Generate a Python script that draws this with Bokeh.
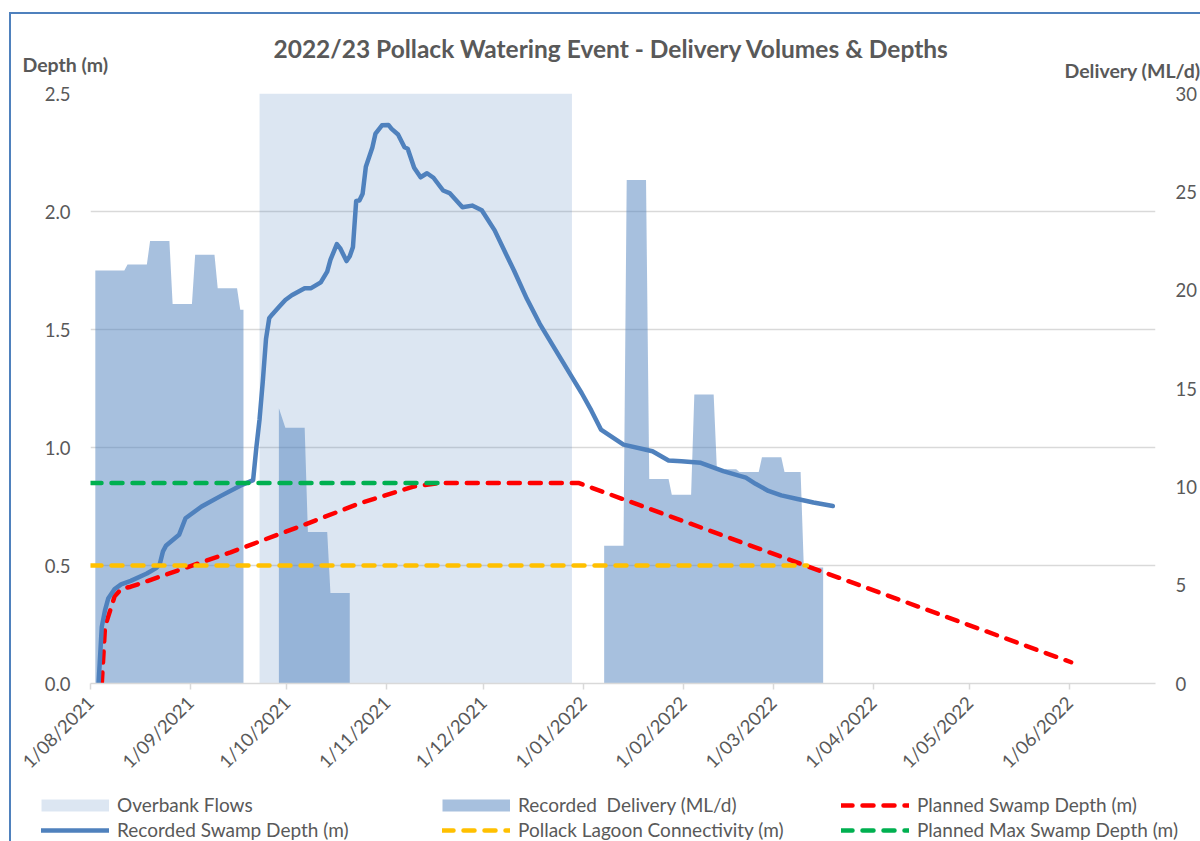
import pandas as pd
from math import pi
from bokeh.plotting import figure
from bokeh.layouts import column
from bokeh.models import (Range1d, LinearAxis, FixedTicker, PrintfTickFormatter,
                          Legend, LegendItem, Label)
from bokeh.embed import file_html
from bokeh.resources import INLINE

# ------------------------------------------------------------------ data
TITLE = "2022/23 Pollack Watering Event - Delivery Volumes & Depths"
LEFT_TITLE = "Depth (m)"
RIGHT_TITLE = "Delivery (ML/d)"

origin = "2021-08-01"
month_ticks = ["2021-08-01", "2021-09-01", "2021-10-01", "2021-11-01", "2021-12-01",
               "2022-01-01", "2022-02-01", "2022-03-01", "2022-04-01", "2022-05-01",
               "2022-06-01"]
month_tick_labels = ["1/08/2021", "1/09/2021", "1/10/2021", "1/11/2021", "1/12/2021",
                     "1/01/2022", "1/02/2022", "1/03/2022", "1/04/2022", "1/05/2022",
                     "1/06/2022"]
depth_ticks = [0.0, 0.5, 1.0, 1.5, 2.0, 2.5]
delivery_ticks = [0, 5, 10, 15, 20, 25, 30]

overbank_dates = ["2021-09-22", "2021-12-28"]
overbank_level = 30

delivery_1_dates = ["2021-08-02", "2021-08-11", "2021-08-12", "2021-08-18", "2021-08-19",
                    "2021-08-25", "2021-08-26", "2021-09-01", "2021-09-02", "2021-09-08",
                    "2021-09-09", "2021-09-15", "2021-09-16", "2021-09-17"]
delivery_1_values = [21.0, 21.0, 21.3, 21.3, 22.5, 22.5, 19.3, 19.3, 21.8, 21.8,
                     20.1, 20.1, 19.0, 19.0]
delivery_2_dates = ["2021-09-28", "2021-09-30", "2021-10-06", "2021-10-07", "2021-10-13",
                    "2021-10-14", "2021-10-20"]
delivery_2_values = [14.0, 13.0, 13.0, 7.7, 7.7, 4.6, 4.6]
delivery_3_dates = ["2022-01-07", "2022-01-13", "2022-01-14", "2022-01-20", "2022-01-21",
                    "2022-01-27", "2022-01-28", "2022-02-03", "2022-02-04", "2022-02-10",
                    "2022-02-11", "2022-02-17", "2022-02-18", "2022-02-24", "2022-02-25",
                    "2022-03-03", "2022-03-04", "2022-03-09", "2022-03-10", "2022-03-16"]
delivery_3_values = [7.0, 7.0, 25.6, 25.6, 10.4, 10.4, 9.6, 9.6, 14.7, 14.7,
                     10.9, 10.9, 10.75, 10.75, 11.5, 11.5, 10.75, 10.75, 5.9, 5.9]

swamp_dates = ["2021-08-03", "2021-08-04", "2021-08-05", "2021-08-06", "2021-08-08",
               "2021-08-10", "2021-08-13", "2021-08-18", "2021-08-21", "2021-08-22",
               "2021-08-23", "2021-08-24", "2021-08-28", "2021-08-30", "2021-09-04",
               "2021-09-10", "2021-09-16", "2021-09-20", "2021-09-21", "2021-09-22",
               "2021-09-23", "2021-09-24", "2021-09-25", "2021-09-26", "2021-09-28",
               "2021-09-30", "2021-10-02", "2021-10-04", "2021-10-06", "2021-10-08",
               "2021-10-11", "2021-10-13", "2021-10-14", "2021-10-16", "2021-10-17",
               "2021-10-19", "2021-10-20", "2021-10-21", "2021-10-22", "2021-10-23",
               "2021-10-24", "2021-10-25", "2021-10-27", "2021-10-28", "2021-10-30",
               "2021-11-01", "2021-11-02", "2021-11-04", "2021-11-06", "2021-11-07",
               "2021-11-09", "2021-11-11", "2021-11-13", "2021-11-15", "2021-11-18",
               "2021-11-20", "2021-11-24", "2021-11-27", "2021-11-30", "2021-12-04",
               "2021-12-08", "2021-12-10", "2021-12-14", "2021-12-18", "2021-12-28",
               "2021-12-31", "2022-01-03", "2022-01-06", "2022-01-13", "2022-01-22",
               "2022-01-27", "2022-01-31", "2022-02-06", "2022-02-13", "2022-02-20",
               "2022-02-23", "2022-02-27", "2022-03-03", "2022-03-08", "2022-03-13",
               "2022-03-19"]
swamp_values = [0.00, 0.24, 0.31, 0.36, 0.40, 0.42, 0.435, 0.466, 0.49, 0.505,
                0.56, 0.585, 0.63, 0.70, 0.75, 0.795, 0.838, 0.862, 1.00, 1.12,
                1.28, 1.46, 1.548, 1.565, 1.595, 1.625, 1.645, 1.66, 1.675, 1.675,
                1.70, 1.745, 1.795, 1.862, 1.845, 1.79, 1.81, 1.85, 2.045, 2.047,
                2.075, 2.19, 2.27, 2.33, 2.365, 2.367, 2.35, 2.326, 2.272, 2.266,
                2.185, 2.145, 2.162, 2.143, 2.089, 2.078, 2.018, 2.025, 2.005, 1.92,
                1.806, 1.75, 1.63, 1.524, 1.298, 1.231, 1.157, 1.076, 1.012, 0.984,
                0.945, 0.942, 0.935, 0.90, 0.872, 0.846, 0.816, 0.797, 0.782, 0.767,
                0.752]

planned_dates = ["2021-08-04", "2021-08-05", "2021-08-08", "2021-08-10", "2021-08-13",
                 "2021-09-13", "2021-10-05", "2021-10-23", "2021-11-03", "2021-11-09",
                 "2021-11-17", "2021-12-30", "2022-06-01"]
planned_values = [0.0, 0.24, 0.37, 0.40, 0.41, 0.556, 0.668, 0.763, 0.81, 0.835,
                  0.85, 0.85, 0.09]

lagoon_dates = ["2021-08-01", "2022-03-11"]
lagoon_values = [0.5, 0.5]

max_dates = ["2021-08-01", "2021-11-17"]
max_values = [0.85, 0.85]

# ------------------------------------------------------------------ style
FONT = "Lato"
TEXT = "#595959"
GRID = "#d9d9d9"
BLUE = "#4f81bd"
RED = "#ff0000"
YELLOW = "#ffc000"
GREEN = "#00b050"
DASH = dict(line_width=4.5, line_dash="11 10", line_cap="round")


def days(s):
    return (pd.Timestamp(s) - pd.Timestamp(origin)).days


MID = 0.5  # daily points sit in the middle of their day (Excel date axis)


def xs(dates):
    return [days(d) + MID for d in dates]


X_END = 330.7
W = 1200
TOP_H, MAIN_H, LEG_H = 84, 706, 51


def blank(height):
    # a plain drawing strip whose data units are page pixels (y grows downward)
    f = figure(width=W, height=height, output_backend="svg", toolbar_location=None,
               x_range=Range1d(0, W), y_range=Range1d(height, 0),
               x_axis_location=None, y_axis_location=None, min_border=0,
               outline_line_color=None, background_fill_alpha=0, border_fill_alpha=0,
               frame_align=False)
    f.grid.visible = False
    return f


# ------------------------------------------------------------------ header strip
top = blank(TOP_H)
for txt, px, py, size, align in [(TITLE, 611, 48, "24.5px", "center"),
                                 (LEFT_TITLE, 22, 64, "19.5px", "left"),
                                 (RIGHT_TITLE, 1064, 70, "19.5px", "left")]:
    top.add_layout(Label(x=px, y=py, text=txt, text_align=align,
                         text_baseline="middle", text_font=FONT, text_font_size=size,
                         text_font_style="bold", text_color=TEXT))

# ------------------------------------------------------------------ main plot
p = figure(width=W, height=MAIN_H, output_backend="svg", toolbar_location=None,
           x_range=Range1d(0, X_END), y_range=Range1d(0, 2.5),
           min_border_left=90, min_border_right=45, min_border_top=9,
           min_border_bottom=107, outline_line_color=None,
           background_fill_color="white", border_fill_alpha=0, frame_align=False)
p.extra_y_ranges = {"right": Range1d(0, 30)}

xa = p.xaxis[0]
xa.ticker = FixedTicker(ticks=[days(d) for d in month_ticks])
xa.major_label_overrides = {days(d): lab for d, lab in zip(month_ticks, month_tick_labels)}
xa.major_label_orientation = pi / 4
xa.axis_line_color = GRID
xa.axis_line_width = 1.5
xa.major_tick_line_color = GRID
xa.major_tick_line_width = 1.5
xa.major_tick_out = 6
xa.major_tick_in = 0
xa.minor_tick_line_color = None
xa.major_label_standoff = 10
xa.major_label_text_font = FONT
xa.major_label_text_font_size = "18.5px"
xa.major_label_text_color = TEXT

ya = p.yaxis[0]
ya.ticker = FixedTicker(ticks=depth_ticks)
ya.formatter = PrintfTickFormatter(format="%.1f")
ya.axis_line_color = None
ya.major_tick_line_color = None
ya.minor_tick_line_color = None
ya.major_tick_out = 0
ya.major_tick_in = 0
ya.major_label_standoff = 20
ya.major_label_text_font = FONT
ya.major_label_text_font_size = "18.5px"
ya.major_label_text_color = TEXT

ra = LinearAxis(y_range_name="right", ticker=FixedTicker(ticks=delivery_ticks),
                axis_line_color=None, major_tick_line_color=None,
                minor_tick_line_color=None, major_tick_out=0, major_tick_in=0,
                major_label_standoff=20, major_label_text_font=FONT,
                major_label_text_font_size="18.5px", major_label_text_color=TEXT)
p.add_layout(ra, "right")

p.xgrid.visible = False
p.ygrid.grid_line_color = GRID
p.ygrid.grid_line_width = 1.5

# overbank flows band
p.quad(left=[days(overbank_dates[0]) + MID], right=[days(overbank_dates[1]) + MID],
       bottom=[0], top=[overbank_level], y_range_name="right",
       fill_color=BLUE, fill_alpha=0.2, line_color=None)

# recorded delivery areas
for dts, vals in [(delivery_1_dates, delivery_1_values),
                  (delivery_2_dates, delivery_2_values),
                  (delivery_3_dates, delivery_3_values)]:
    x = xs(dts)
    p.patch([x[0]] + x + [x[-1]], [0] + vals + [0], y_range_name="right",
            fill_color=BLUE, fill_alpha=0.5, line_color=None)

p.line(xs(planned_dates), planned_values, line_color=RED, **DASH)
p.line(xs(swamp_dates), swamp_values, line_color=BLUE, line_width=4.5,
       line_join="round", line_cap="round")
p.line([days(lagoon_dates[0]), days(lagoon_dates[1]) + MID], lagoon_values,
       line_color=YELLOW, **DASH)
p.line([days(max_dates[0]), days(max_dates[1]) + MID], max_values,
       line_color=GREEN, **DASH)

# ------------------------------------------------------------------ legend strip
lg = blank(LEG_H)
OFF = ([-100], [-100])  # legend-key proxies: a single point outside the strip
r_ob = lg.line(*OFF, line_color=BLUE, line_alpha=0.2, line_width=12, line_cap="butt")
r_del = lg.line(*OFF, line_color=BLUE, line_alpha=0.5, line_width=12, line_cap="butt")
r_sw = lg.line(*OFF, line_color=BLUE, line_width=4.5, line_cap="round")
r_lag = lg.line(*OFF, line_color=YELLOW, **DASH)
r_pl = lg.line(*OFF, line_color=RED, **DASH)
r_mx = lg.line(*OFF, line_color=GREEN, **DASH)

legend_columns = [(41, [("Overbank Flows", r_ob), ("Recorded Swamp Depth (m)", r_sw)]),
                  (442, [("Recorded  Delivery (ML/d)", r_del),
                         ("Pollack Lagoon Connectivity (m)", r_lag)]),
                  (841, [("Planned Swamp Depth (m)", r_pl),
                         ("Planned Max Swamp Depth (m)", r_mx)])]
for xloc, items in legend_columns:
    lg.add_layout(Legend(items=[LegendItem(label=l, renderers=[r]) for l, r in items],
                         location=(xloc, 0), orientation="vertical",
                         glyph_width=68, glyph_height=20, label_height=20, spacing=2,
                         label_standoff=8, padding=0, margin=0,
                         background_fill_alpha=0, border_line_alpha=0,
                         label_text_font=FONT, label_text_font_size="19px",
                         label_text_color=TEXT))

layout = column(top, p, lg, spacing=0)
# chart-area border (its left and top edges are what the crop shows)
layout.styles = {"background": "linear-gradient(#4f81bd,#4f81bd) 9px 12px / 2px 100% no-repeat, "
                               "linear-gradient(#4f81bd,#4f81bd) 9px 12px / 100% 2px no-repeat, white"}

open("out.html", "w").write(file_html(layout, INLINE))
